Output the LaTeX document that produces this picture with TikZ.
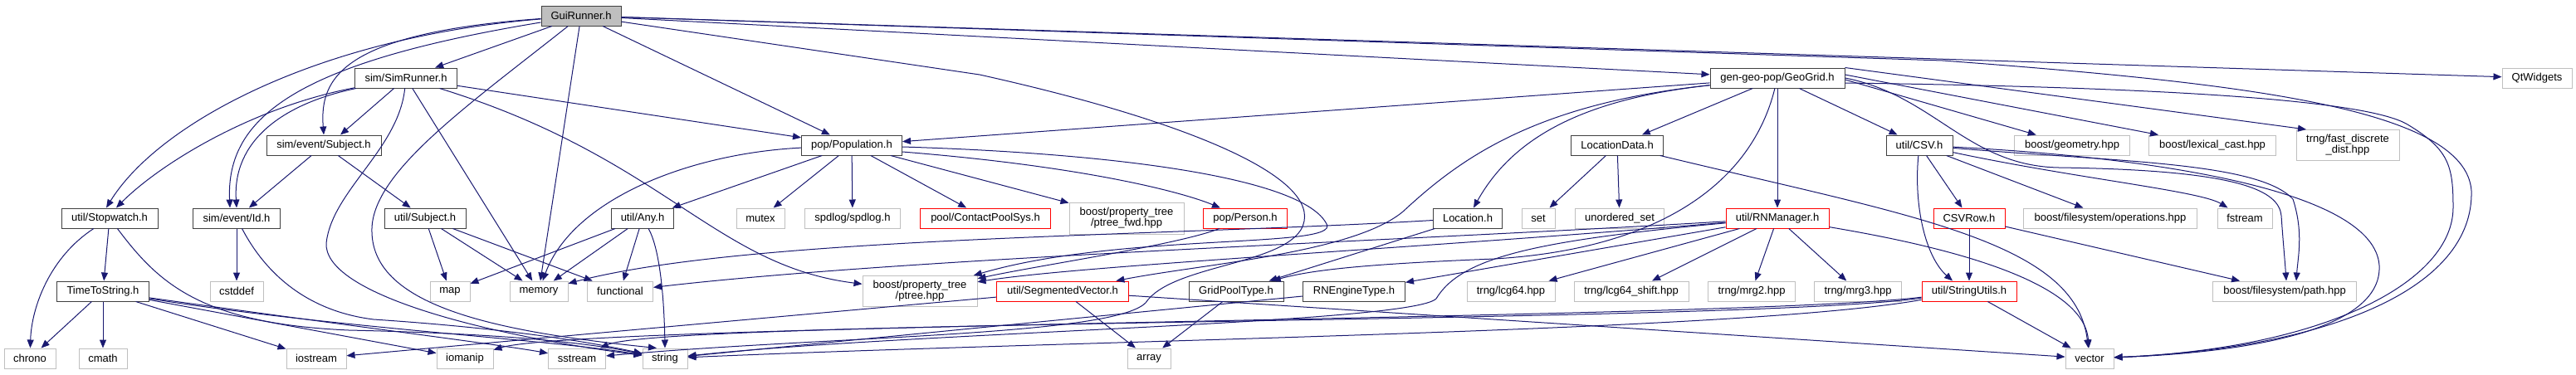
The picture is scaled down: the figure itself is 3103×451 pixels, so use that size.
\documentclass[tikz,border=0pt]{standalone}
\usepackage{fontspec}
\setmainfont{Liberation Sans}
\usetikzlibrary{arrows.meta}
\definecolor{edgec}{HTML}{191970}
\definecolor{sysb}{HTML}{BFBFBF}
\definecolor{usrb}{HTML}{404040}
\definecolor{redb}{HTML}{FF0000}
\begin{document}
\begin{tikzpicture}[x=1pt,y=-1pt,
  nbox/.style={rectangle, inner sep=0pt, line width=1pt, align=center, font=\fontsize{13}{13}\selectfont, minimum height=24pt},
  nsys/.style={nbox, draw=sysb},
  nusr/.style={nbox, draw=usrb},
  ntrn/.style={nbox, draw=redb},
  nroot/.style={nbox, draw=usrb, fill=sysb},
  dep/.style={draw=edgec, line width=1pt, -{Triangle[length=10pt,width=8pt]}}]
\useasboundingbox (0,0) rectangle (3103,451);
% row 0
\node[nroot, minimum width=96] (gui) at (700,19) {GuiRunner.h};
% row 1
\node[nusr, minimum width=123] (simr) at (489,94) {sim/SimRunner.h};
\node[nusr, minimum width=162] (geo) at (2141,94) {gen-geo-pop/GeoGrid.h};
\node[nsys, minimum width=84] (qt) at (3056,94) {QtWidgets};
% row 2
\node[nusr, minimum width=138] (subjev) at (390,175) {sim/event/Subject.h};
\node[nusr, minimum width=121] (pop) at (1026,175) {pop/Population.h};
\node[nusr, minimum width=111] (locd) at (1948,175) {LocationData.h};
\node[nusr, minimum width=80] (csv) at (2312,175) {util/CSV.h};
\node[nsys, minimum width=139] (geom) at (2496,175) {boost/geometry.hpp};
\node[nsys, minimum width=153] (lex) at (2665,175) {boost/lexical\_cast.hpp};
\node[nsys, minimum width=124, minimum height=37] (fdd) at (2828,175) {trng/fast\_discrete\\\_dist.hpp};
% row 3
\node[nusr, minimum width=116] (sw) at (132,263) {util/Stopwatch.h};
\node[nusr, minimum width=105] (id) at (285,263) {sim/event/Id.h};
\node[nusr, minimum width=98] (subju) at (512,263) {util/Subject.h};
\node[nusr, minimum width=75] (any) at (774,263) {util/Any.h};
\node[nsys, minimum width=58] (mutex) at (916,263) {mutex};
\node[nsys, minimum width=115] (spd) at (1027,263) {spdlog/spdlog.h};
\node[ntrn, minimum width=157] (cps) at (1187,263) {pool/ContactPoolSys.h};
\node[nsys, minimum width=138, minimum height=38] (ptf) at (1357,263) {boost/property\_tree\\/ptree\_fwd.hpp};
\node[ntrn, minimum width=101] (person) at (1500,263) {pop/Person.h};
\node[nusr, minimum width=83] (loc) at (1768,263) {Location.h};
\node[nsys, minimum width=40] (set) at (1853,263) {set};
\node[nsys, minimum width=107] (uset) at (1951,263) {unordered\_set};
\node[ntrn, minimum width=124] (rnm) at (2141,263) {util/RNManager.h};
\node[ntrn, minimum width=86] (csvrow) at (2372,263) {CSVRow.h};
\node[nsys, minimum width=209] (ops) at (2542,263) {boost/filesystem/operations.hpp};
\node[nsys, minimum width=66] (fst) at (2704,263) {fstream};
% row 4
\node[nusr, minimum width=111] (tts) at (124,351) {TimeToString.h};
\node[nsys, minimum width=64] (cstd) at (285,351) {cstddef};
\node[nsys, minimum width=48] (map) at (542,351) {map};
\node[nsys, minimum width=70] (mem) at (649,351) {memory};
\node[nsys, minimum width=79] (func) at (747,351) {functional};
\node[nsys, minimum width=138, minimum height=37] (ptree) at (1108,351) {boost/property\_tree\\/ptree.hpp};
\node[ntrn, minimum width=159] (segv) at (1280,351) {util/SegmentedVector.h};
\node[nusr, minimum width=114] (gpt) at (1489,351) {GridPoolType.h};
\node[nusr, minimum width=123] (rne) at (1631,351) {RNEngineType.h};
\node[nsys, minimum width=106] (lcg) at (1820,351) {trng/lcg64.hpp};
\node[nsys, minimum width=138] (lcgs) at (1965,351) {trng/lcg64\_shift.hpp};
\node[nsys, minimum width=105] (mrg2) at (2110,351) {trng/mrg2.hpp};
\node[nsys, minimum width=105] (mrg3) at (2238,351) {trng/mrg3.hpp};
\node[ntrn, minimum width=114] (su) at (2372,351) {util/StringUtils.h};
\node[nsys, minimum width=173] (path) at (2752,351) {boost/filesystem/path.hpp};
% row 5
\node[nsys, minimum width=62] (chrono) at (36,432) {chrono};
\node[nsys, minimum width=58] (cmath) at (124,432) {cmath};
\node[nsys, minimum width=72] (iostream) at (381,432) {iostream};
\node[nsys, minimum width=68] (iomanip) at (560,432) {iomanip};
\node[nsys, minimum width=69] (sstream) at (695,432) {sstream};
\node[nsys, minimum width=54] (string) at (801,432) {string};
\node[nsys, minimum width=52] (array) at (1384,432) {array};
\node[nsys, minimum width=58] (vector) at (2517,432) {vector};

% GuiRunner.h
\draw[dep] (gui) .. controls (380,45) and (190,150) .. ([xshift=-4]sw.north);
\draw[dep] (gui) .. controls (360,75) and (272,140) .. ([xshift=-8]id.north);
\draw[dep] (gui) .. controls (410,40) and (385,95) .. (subjev.north);
\draw[dep] (gui) -- (simr);
\draw[dep] (gui) -- (mem);
\draw[dep] (gui) .. controls (560,130) and (445,210) .. (448,280) .. controls (450,370) and (600,400) .. ([xshift=-10]string.north);
\draw[dep] (gui) -- (pop);
\draw[dep] (gui) -- (geo);
\draw[dep] (gui) -- (qt);
\draw[dep] (gui) -- (2340,73) .. controls (2700,100) and (2970,130) .. (2977,230) .. controls (2980,350) and (2800,420) .. (vector);
\draw[dep] (gui) -- (1180,90) .. controls (1450,150) and (1600,220) .. (1567,277) .. controls (1540,320) and (1410,320) .. (1380,365) .. controls (1340,405) and (1000,405) .. (sstream);
% sim/SimRunner.h
\draw[dep] (simr) .. controls (300,130) and (190,200) .. ([xshift=8]sw.north);
\draw[dep] (simr) .. controls (340,125) and (280,170) .. (id.north);
\draw[dep] (simr) -- ([xshift=20]subjev.north);
\draw[dep] (simr) .. controls (480,180) and (400,230) .. (393,293) .. controls (390,350) and (560,400) .. (string);
\draw[dep] (simr) -- (mem);
\draw[dep] (simr) .. controls (800,190) and (860,320) .. (ptree);
\draw[dep] (simr) -- (pop);
% sim/event/Subject.h
\draw[dep] (subjev) -- (id);
\draw[dep] (subjev) -- (subju);
% util/Subject.h
\draw[dep] (subju) -- (map);
\draw[dep] (subju) -- (mem);
\draw[dep] (subju) -- (func);
% util/Stopwatch.h
\draw[dep] (sw) -- (tts);
\draw[dep] (sw) .. controls (60,310) and (38,370) .. (chrono);
\draw[dep] (sw) .. controls (190,340) and (240,390) .. (420,398) .. controls (600,402) and (700,412) .. (string);
% TimeToString.h
\draw[dep] (tts) -- (chrono);
\draw[dep] (tts) -- (cmath);
\draw[dep] (tts) -- (iostream);
\draw[dep] (tts) -- (iomanip);
\draw[dep] (tts) .. controls (400,390) and (600,415) .. (sstream);
\draw[dep] (tts) .. controls (400,395) and (650,408) .. (string);
% sim/event/Id.h
\draw[dep] (id) -- (cstd);
\draw[dep] (id) .. controls (320,330) and (370,375) .. (450,385) .. controls (600,395) and (700,410) .. (string);
% util/Any.h
\draw[dep] (any) -- (map);
\draw[dep] (any) -- (mem);
\draw[dep] (any) -- (func);
\draw[dep] (any) .. controls (795,300) and (800,360) .. (string.north);
% pop/Population.h
\draw[dep] (pop) .. controls (830,185) and (690,240) .. (mem);
\draw[dep] (pop) -- (any);
\draw[dep] (pop) -- (mutex);
\draw[dep] (pop) -- (spd);
\draw[dep] (pop) -- (cps);
\draw[dep] (pop) -- (ptf);
\draw[dep] ([yshift=-8]pop.east) .. controls (1300,200) and (1420,230) .. ([xshift=-30]person.north);
\draw[dep] ([yshift=-2]pop.east) .. controls (1350,185) and (1570,215) .. (1598,270) .. controls (1615,300) and (1350,280) .. (ptree);
% pop/Person.h
\draw[dep] (person) .. controls (1420,295) and (1250,320) .. (ptree);
% Location.h
\draw[dep] (loc) .. controls (1400,285) and (900,285) .. (mem);
\draw[dep] (loc) -- (gpt);
% gen-geo-pop/GeoGrid.h
\draw[dep] (geo) -- (pop);
\draw[dep] (geo) -- (locd);
\draw[dep] (geo) .. controls (1900,120) and (1820,170) .. (loc);
\draw[dep] (geo) -- (rnm);
\draw[dep] (geo) -- (csv);
\draw[dep] ([yshift=-2]geo.east) -- (geom);
\draw[dep] ([yshift=4]geo.east) -- (lex);
\draw[dep] (geo.north east) -- ([xshift=-50]fdd.north);
\draw[dep] ([yshift=-6]geo.east) .. controls (2600,105) and (2850,120) .. (2900,150) .. controls (2950,180) and (2955,200) .. (2955,250) .. controls (2955,340) and (2800,420) .. (vector);
\draw[dep] (geo.east) .. controls (2330,115) and (2370,200) .. (2480,202) .. controls (2700,205) and (2745,230) .. (2748,260) .. controls (2750,290) and (2752,310) .. ([xshift=2]path.north);
\draw[dep] (geo) .. controls (2110,220) and (2000,300) .. (1800,312) .. controls (1650,318) and (1580,325) .. (gpt);
\draw[dep] (geo) .. controls (1850,125) and (1760,190) .. (1690,255) .. controls (1630,305) and (1450,318) .. (segv);
% LocationData.h
\draw[dep] (locd) -- (set);
\draw[dep] (locd) -- (uset);
\draw[dep] (locd) .. controls (2300,260) and (2500,290) .. (vector);
% util/RNManager.h
\draw[dep] (rnm) -- (rne);
\draw[dep] (rnm) -- (lcg);
\draw[dep] (rnm) -- (lcgs);
\draw[dep] (rnm) -- (mrg2);
\draw[dep] (rnm) -- (mrg3);
\draw[dep] (rnm) .. controls (2300,290) and (2510,330) .. (vector);
\draw[dep] (rnm) .. controls (1700,290) and (1100,310) .. (func);
\draw[dep] (rnm) .. controls (1700,300) and (1300,320) .. (ptree);
\draw[dep] (rnm) .. controls (1850,290) and (1760,310) .. (1730,360) .. controls (1700,390) and (1100,400) .. (string);
% RNEngineType.h, GridPoolType.h, SegmentedVector.h
\draw[dep] (rne) -- (string);
\draw[dep] (gpt) -- (array);
\draw[dep] (segv) -- (array);
\draw[dep] (segv) -- (iostream);
\draw[dep] (segv) -- (vector);
% util/CSV.h
\draw[dep] (csv) -- (csvrow);
\draw[dep] (csv) .. controls (2305,250) and (2320,310) .. ([xshift=-20]su.north);
\draw[dep] (csv) -- (ops);
\draw[dep] (csv) .. controls (2500,215) and (2650,230) .. (fst);
\draw[dep] (csv) .. controls (2550,195) and (2720,195) .. (2762,240) .. controls (2775,280) and (2768,310) .. ([xshift=14]path.north);
\draw[dep] (csv) .. controls (2600,190) and (2860,230) .. (2866,320) .. controls (2870,400) and (2700,425) .. (vector);
% CSVRow.h
\draw[dep] (csvrow) -- (su);
\draw[dep] (csvrow) -- (path);
% util/StringUtils.h
\draw[dep] (su) -- (vector);
\draw[dep] (su) .. controls (2100,400) and (1300,410) .. (string);
\draw[dep] (su) .. controls (2100,390) and (800,385) .. (sstream);
\draw[dep] (su) .. controls (2100,385) and (700,390) .. (iomanip);
\end{tikzpicture}
\end{document}
